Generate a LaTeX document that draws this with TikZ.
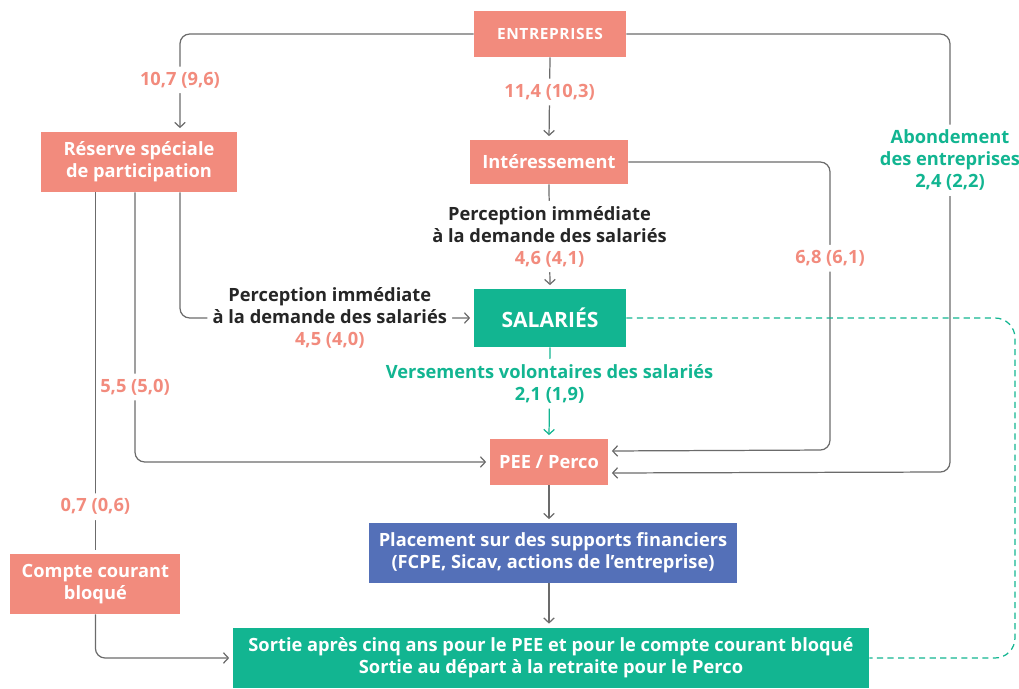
\documentclass[tikz,border=0pt]{standalone}
\usepackage{fontspec}
\setmainfont{Open Sans}
\usetikzlibrary{arrows.meta}

\definecolor{saumon}{HTML}{F28B7D}
\definecolor{vert}{HTML}{12B591}
\definecolor{bleu}{HTML}{5470B8}
\definecolor{trait}{HTML}{6B6B6B}
\definecolor{encre}{HTML}{262626}

\tikzset{
    boite/.style 2 args={fill=saumon,text=white,align=center,inner sep=0pt,
        minimum width=#1cm,minimum height=#2cm,
        font=\bfseries\fontsize{10.4}{12.5}\selectfont},
    lien/.style={draw=trait,line width=0.7pt,rounded corners=5.5pt,shorten >=2pt},
    chiffre/.style={fill=white,text=saumon,align=center,inner sep=3pt,
        font=\bfseries\fontsize{10.4}{12.5}\selectfont},
    texte/.style={chiffre,text=encre},
    vertlabel/.style={chiffre,text=vert},
    pointille/.style={draw=vert,line width=0.7pt,dash pattern=on 3.5pt off 2.5pt,rounded corners=0.4cm}
}

\begin{document}
\begin{tikzpicture}[x=0.02cm,y=-0.02cm,>={Straight Barb[length=2.8pt,width=6pt]}]
    \useasboundingbox (0,0) rectangle (1019,689);
    % boxes
    \node [boite={3.04}{0.92},font=\bfseries\fontsize{8.8}{10}\selectfont\addfontfeature{LetterSpace=4}] (ent) at (550,34) {ENTREPRISES};
    \node [boite={3.92}{1.2}] (res) at (139,162) {Réserve spéciale\\de participation};
    \node [boite={3.16}{0.88}] (int) at (549,162) {Intéressement};
    \node [boite={3.04}{1.16},fill=vert,font=\bfseries\fontsize{12}{14}\selectfont] (sal) at (550,318) {SALARIÉS};
    \node [boite={2.36}{0.92}] (pee) at (549,462) {PEE / Perco};
    \node [boite={7.38}{1.2},fill=bleu] (plac) at (553,553) {Placement sur des supports financiers\\(FCPE, Sicav, actions de l’entreprise)};
    \node [boite={3.4}{1.2}] (cpt) at (95.4,584) {Compte courant\\bloqué};
    \node [boite={12.72}{1.22},fill=vert] (sortie) at (551,658) {Sortie après cinq ans pour le PEE et pour le compte courant bloqué\\Sortie au départ à la retraite pour le Perco};

    % flows from the companies
    \draw [lien,->] (ent.west) -| node [chiffre,pos=0.735] {10,7 (9,6)} ([xshift=0.82cm]res.north);
    \draw [lien,->] (ent.south) -- node [chiffre,pos=0.42] {11,4 (10,3)} (int.north);
    \draw [lien,->] (ent.east) -| node [vertlabel,pos=0.644] {Abondement\\des entreprises\\2,4 (2,2)} (950,472) -- ([yshift=-0.22cm]pee.east);

    % participation
    \draw [lien,->] ([xshift=0.82cm]res.south) |- node [texte,pos=0.755] {Perception immédiate\\à la demande des salariés\\\textcolor{saumon}{4,5 (4,0)}} (sal.west);
    \draw [lien,->] ([xshift=-0.08cm]res.south) |- node [chiffre,pos=0.361] {5,5 (5,0)} (pee.west);
    \draw [lien] (cpt.north |- res.south) -- node [chiffre,pos=0.87] {0,7 (0,6)} (cpt.north);

    % interessement
    \draw [lien,->] (int.south) -- node [texte] {Perception immédiate\\à la demande des salariés\\\textcolor{saumon}{4,6 (4,1)}} (sal.north);
    \draw [lien,->] (int.east) -| node [chiffre,pos=0.667] {6,8 (6,1)} (830,450) -- ([yshift=0.22cm]pee.east);

    % employees and exit
    \draw [lien,draw=vert,->] (sal.south) -- node [vertlabel,pos=0.4] {Versements volontaires des salariés\\2,1 (1,9)} (pee.north);
    \draw [lien,->] (pee.south) -- (pee.south |- plac.north);
    \draw [lien,->] (pee.south |- plac.south) -- (pee.south |- sortie.north);
    \draw [lien,->] (cpt.south) |- (sortie.west);
    \draw [pointille] (sal.east) -| (1015,658) -- (sortie.east);
\end{tikzpicture}
\end{document}
